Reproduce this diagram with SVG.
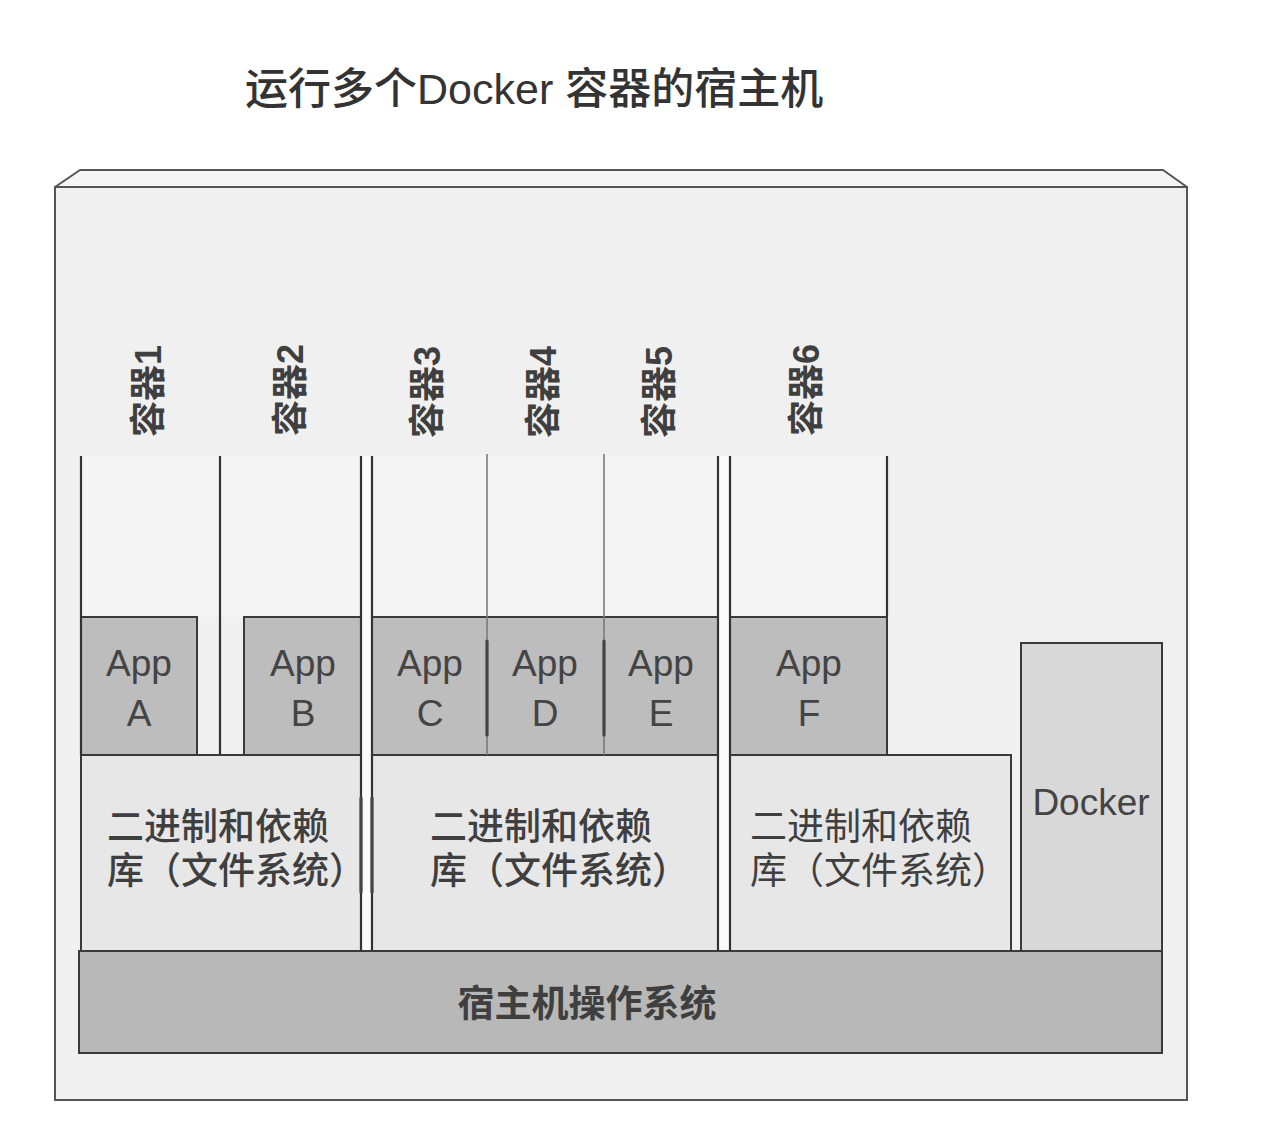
<svg xmlns="http://www.w3.org/2000/svg" width="1274" height="1130" viewBox="0 0 1274 1130">
  <style>
    .t { font-family: "Liberation Sans", "Noto Sans CJK SC", sans-serif; fill: #3f3f3f; }
    .title { font-size: 43px; fill: #333; font-weight: 500; }
    .clabel { font-size: 36px; font-weight: bold; text-anchor: middle; dominant-baseline: central; }
    .app { font-size: 37px; text-anchor: middle; fill: #444; }
    .lib { font-size: 37px; }
    .med { font-weight: 500; }
    .bold { font-weight: bold; }
    .appbox { fill: #bdbdbd; stroke: #3a3a3a; stroke-width: 2; }
    .libbox { fill: #e7e7e7; stroke: #3a3a3a; stroke-width: 2; }
    .cline { stroke: #333; stroke-width: 2.2; fill: none; }
    .thin { stroke: #7a7a7a; stroke-width: 1.6; fill: none; }
    .thick { stroke: #444; stroke-width: 3.2; fill: none; stroke-linecap: round; }
  </style>
  <rect x="0" y="0" width="1274" height="1130" fill="#ffffff"/>

  <g id="title">
    <text class="t title" x="245" y="104">运行多个Docker 容器的宿主机</text>
  </g>

  <g id="host-frame">
    <polygon points="80,170 1163,170 1187,187 55,187" fill="#f5f5f5" stroke="#555" stroke-width="2" stroke-linejoin="round"/>
    <rect x="55" y="187" width="1132" height="913" fill="#f0f0f0" stroke="#555" stroke-width="2"/>
  </g>

  <g id="container-areas">
    <rect x="81" y="456" width="280" height="161" fill="#f4f4f4"/>
    <rect x="372" y="456" width="346" height="161" fill="#f4f4f4"/>
    <rect x="730" y="456" width="157" height="161" fill="#f4f4f4"/>
    <rect x="361" y="456" width="11" height="495" fill="#fafafa"/>
    <rect x="718" y="456" width="12" height="495" fill="#fafafa"/>
  </g>

  <g id="app-a">
    <rect class="appbox" x="81" y="617" width="116" height="138"/>
    <text class="t app" x="139" y="676">App</text>
    <text class="t app" x="139" y="726">A</text>
  </g>
  <g id="app-b">
    <rect class="appbox" x="244" y="617" width="117" height="138"/>
    <text class="t app" x="303" y="676">App</text>
    <text class="t app" x="303" y="726">B</text>
  </g>
  <g id="app-cde">
    <rect class="appbox" x="372" y="617" width="346" height="138"/>
    <text class="t app" x="430" y="676">App</text>
    <text class="t app" x="430" y="726">C</text>
    <text class="t app" x="545" y="676">App</text>
    <text class="t app" x="545" y="726">D</text>
    <text class="t app" x="661" y="676">App</text>
    <text class="t app" x="661" y="726">E</text>
  </g>
  <g id="app-f">
    <rect class="appbox" x="730" y="617" width="157" height="138"/>
    <text class="t app" x="809" y="676">App</text>
    <text class="t app" x="809" y="726">F</text>
  </g>

  <g id="lib-1">
    <rect class="libbox" x="81" y="755" width="280" height="196"/>
    <text class="t lib med" x="107" y="840">二进制和依赖</text>
    <text class="t lib med" x="107" y="884">库（文件系统）</text>
  </g>
  <g id="lib-2">
    <rect class="libbox" x="372" y="755" width="346" height="196"/>
    <text class="t lib med" x="430" y="840">二进制和依赖</text>
    <text class="t lib med" x="430" y="884">库（文件系统）</text>
  </g>
  <g id="lib-3">
    <rect class="libbox" x="730" y="755" width="281" height="196"/>
    <text class="t lib" x="750" y="840">二进制和依赖</text>
    <text class="t lib" x="750" y="884">库（文件系统）</text>
  </g>

  <g id="docker">
    <rect x="1021" y="643" width="141" height="308" fill="#d8d8d8" stroke="#3a3a3a" stroke-width="2"/>
    <text class="t app" x="1091" y="815">Docker</text>
  </g>

  <g id="host-os">
    <rect x="79" y="951" width="1083" height="102" fill="#b8b8b8" stroke="#3a3a3a" stroke-width="2"/>
    <text class="t lib bold" x="587" y="1017" text-anchor="middle">宿主机操作系统</text>
  </g>

  <g id="container-boundaries">
    <line class="cline" x1="81" y1="456" x2="81" y2="755"/>
    <line class="cline" x1="220" y1="456" x2="220" y2="755"/>
    <line class="cline" x1="361" y1="456" x2="361" y2="951"/>
    <line class="cline" x1="372" y1="456" x2="372" y2="951"/>
    <line class="thin" x1="487" y1="454" x2="487" y2="755"/>
    <line class="thin" x1="604" y1="454" x2="604" y2="755"/>
    <line class="cline" x1="718" y1="456" x2="718" y2="951"/>
    <line class="cline" x1="730" y1="456" x2="730" y2="951"/>
    <line class="cline" x1="887" y1="456" x2="887" y2="617"/>
    <line class="thick" x1="487" y1="641" x2="487" y2="735"/>
    <line class="thick" x1="604" y1="641" x2="604" y2="735"/>
    <line class="thick" x1="361" y1="798" x2="361" y2="892"/>
    <line class="thick" x1="372" y1="798" x2="372" y2="892"/>
  </g>

  <g id="container-labels">
    <text class="t clabel" transform="translate(148,391) rotate(-90)">容器1</text>
    <text class="t clabel" transform="translate(290,390) rotate(-90)">容器2</text>
    <text class="t clabel" transform="translate(427,392) rotate(-90)">容器3</text>
    <text class="t clabel" transform="translate(543,392) rotate(-90)">容器4</text>
    <text class="t clabel" transform="translate(659,392) rotate(-90)">容器5</text>
    <text class="t clabel" transform="translate(806,390) rotate(-90)">容器6</text>
  </g>
</svg>
